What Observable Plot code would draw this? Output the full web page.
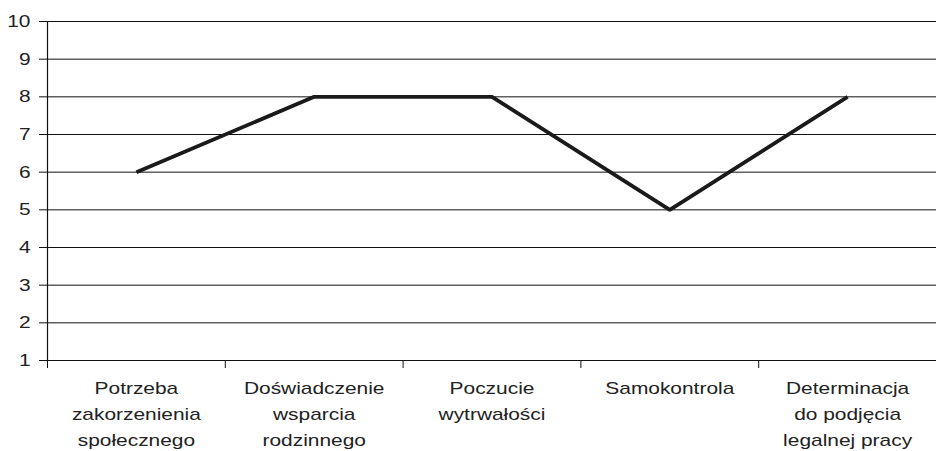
<!DOCTYPE html>
<html>
<head>
<meta charset="utf-8">
<script src="https://cdn.jsdelivr.net/npm/d3@7"></script>
<script src="https://cdn.jsdelivr.net/npm/@observablehq/plot@0.6"></script>
<style>
  html, body { margin: 0; padding: 0; background: #fff; }
  #chart svg { display: block; overflow: hidden; }
</style>
</head>
<body>
<div id="chart"></div>
<script>
const categories = [
  "Potrzeba\nzakorzenienia\nspołecznego",
  "Doświadczenie\nwsparcia\nrodzinnego",
  "Poczucie\nwytrwałości",
  "Samokontrola",
  "Determinacja\ndo podjęcia\nlegalnej pracy"
];
const values = [6, 8, 8, 5, 8];
const yTicks = [1, 2, 3, 4, 5, 6, 7, 8, 9, 10];

const data = categories.map((c, i) => ({pos: i + 0.5, label: c, value: values[i]}));
const boundaries = d3.range(categories.length + 1);

const chart = Plot.plot({
  width: 936,
  height: 451,
  marginLeft: 47,
  marginRight: 0,
  marginTop: 21,
  marginBottom: 91,
  style: {fontFamily: "'Liberation Sans', Arial, sans-serif", fontSize: "17px", color: "#222", background: "#fff"},
  x: {domain: [0, categories.length]},
  y: {domain: [1, 10]},
  marks: [
    Plot.gridY(yTicks, {stroke: "#111", strokeOpacity: 1, strokeWidth: 1}),
    Plot.axisY({ticks: yTicks, tickSize: 8, tickPadding: 9, stroke: "#111", label: null, fontSize: 17}),
    Plot.ruleX([0], {stroke: "#111", strokeWidth: 1.2}),
    Plot.axisX({ticks: boundaries, tickSize: 8, tickFormat: () => "", stroke: "#111", label: null}),
    Plot.axisX({ticks: data.map(d => d.pos), tickSize: 0, tickPadding: 15, tickFormat: (v) => categories[Math.round(v - 0.5)], lineHeight: 1.53, fontSize: 17, label: null}),
    Plot.line(data, {x: "pos", y: "value", stroke: "#1a1a1a", strokeWidth: 3.8, strokeLinejoin: "miter", strokeLinecap: "butt"})
  ]
});
// The reference's lettering is horizontally wider (Arial-like face, stretched): widen each label about its anchor
chart.querySelectorAll('g[aria-label$="tick label"] text').forEach(t => {
  const tr = t.getAttribute("transform");
  if (tr) t.setAttribute("transform", tr + " scale(1.23,1)");
});
document.getElementById("chart").appendChild(chart);
</script>
</body>
</html>
